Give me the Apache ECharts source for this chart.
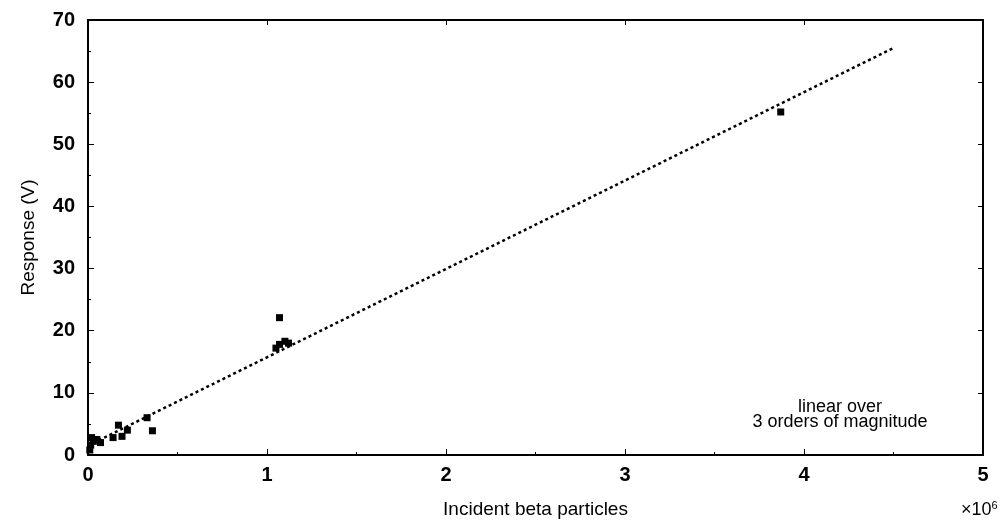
<!DOCTYPE html>
<html>
<head>
<meta charset="utf-8">
<script src="https://cdn.jsdelivr.net/npm/echarts@6/dist/echarts.min.js"></script>
<style>
  html, body { margin: 0; padding: 0; background: #fff; }
  #chart { width: 1007px; height: 520px; }
</style>
</head>
<body>
<div id="chart"></div>
<script>
// measured points, x in units of 1e6 incident particles
const particles = [0.01, 0.015, 0.02, 0.03, 0.05, 0.07, 0.14, 0.17, 0.19, 0.22, 0.33, 0.36,
                   1.05, 1.07, 1.10, 1.12, 1.07, 3.87];
const response = [0.8, 1.6, 2.8, 2.2, 2.5, 2.0, 2.8, 4.8, 3.0, 4.0, 6.0, 3.9,
                  17.2, 17.8, 18.3, 18.0, 22.1, 55.2];

// linear fit endpoints
const fitX = [0, 4.5];
const fitY = [1.5, 65.5];

const xTicks = ["0", "1", "2", "3", "4", "5"];
const yTicks = ["0", "10", "20", "30", "40", "50", "60", "70"];

const font = "Liberation Sans, Arial, sans-serif";

const chart = echarts.init(document.getElementById("chart"));

const axisCommon = {
    axisLine: { show: true, onZero: false, lineStyle: { color: "#000", width: 2 } },
    axisTick: { show: true, inside: true, length: 6, lineStyle: { color: "#000", width: 1 } },
    minorTick: { show: true, splitNumber: 2, length: 3, lineStyle: { color: "#000" } },
    splitLine: { show: false },
    axisLabel: { color: "#000", fontSize: 20, fontFamily: font, fontWeight: "bold", margin: 10 },
    nameTextStyle: { color: "#000", fontSize: 19, fontFamily: font }
};

// mirrored box sides (top / right): ticks only
const mirror = {
    axisLabel: { show: false },
    minorTick: { show: false },
    axisTick: { show: true, inside: true, length: 5, lineStyle: { color: "#000", width: 1 } }
};

chart.setOption({
    animation: false,
    backgroundColor: "#fff",
    grid: { left: 88, right: 24, top: 20, bottom: 65, containLabel: false, outerBoundsMode: "none" },
    xAxis: [
        Object.assign({}, axisCommon, {
            type: "value", min: 0, max: 5, interval: 1,
            name: "Incident beta particles", nameLocation: "middle", nameGap: 45,
            axisLabel: Object.assign({}, axisCommon.axisLabel, {
                formatter: (v) => xTicks[Math.round(v)]
            })
        }),
        Object.assign({}, axisCommon, mirror, {
            type: "value", min: 0, max: 5, interval: 1, position: "top"
        })
    ],
    yAxis: [
        Object.assign({}, axisCommon, {
            type: "value", min: 0, max: 70, interval: 10,
            name: "Response (V)", nameLocation: "middle", nameGap: 50,
            axisLabel: Object.assign({}, axisCommon.axisLabel, {
                margin: 13,
                formatter: (v) => yTicks[Math.round(v / 10)]
            })
        }),
        Object.assign({}, axisCommon, mirror, {
            type: "value", min: 0, max: 70, interval: 10, position: "right"
        })
    ],
    graphic: [
        {
            type: "text", left: 961, top: 500,
            style: {
                text: "×10{s|6}",
                fill: "#000",
                font: "18px " + font,
                rich: { s: { fontSize: 11, fontFamily: font, verticalAlign: "top", padding: [0, 0, 10, 0] } }
            }
        },
        {
            type: "text", x: 840, y: 400,
            style: {
                text: "linear over\n3 orders of magnitude", fill: "#000",
                font: "18px " + font, align: "center", lineHeight: 15
            }
        }
    ],
    series: [
        {
            type: "line",
            data: fitX.map((x, i) => [x, fitY[i]]),
            symbol: "none",
            lineStyle: { color: "#000", width: 2.5, type: [3, 3] },
            z: 2
        },
        {
            type: "scatter",
            data: particles.map((x, i) => [x, response[i]]),
            symbol: "rect",
            symbolSize: 7,
            itemStyle: { color: "#000", opacity: 1 },
            z: 3
        }
    ]
});
</script>
</body>
</html>
